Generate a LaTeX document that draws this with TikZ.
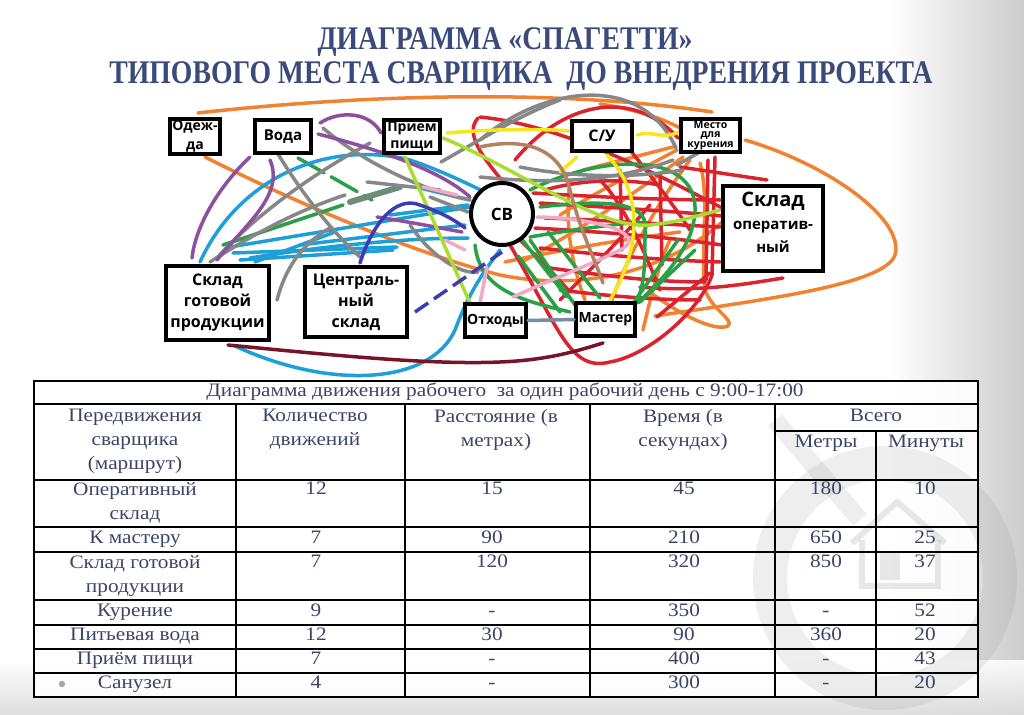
\documentclass[tikz,border=0pt]{standalone}
\usepackage{fontspec}
\setmainfont{Liberation Serif}
\newfontfamily\tfont{Liberation Serif}[FakeStretch=1.12]
\newfontfamily\ttlfont{Liberation Serif Bold}[FakeStretch=0.84]
\newfontfamily\bfont{Open Sans}
\definecolor{spred}{RGB}{220,35,45}
\definecolor{spgreen}{RGB}{40,160,70}
\definecolor{sporange}{RGB}{240,130,50}
\definecolor{spgray}{RGB}{135,135,135}
\definecolor{spcyan}{RGB}{30,160,215}
\definecolor{sppurple}{RGB}{140,80,160}
\definecolor{spyellow}{RGB}{245,230,30}
\definecolor{splime}{RGB}{170,220,50}
\definecolor{sppink}{RGB}{240,170,200}
\definecolor{spbrown}{RGB}{180,130,95}
\definecolor{spmaroon}{RGB}{120,20,40}
\definecolor{spnavy}{RGB}{60,60,180}
\definecolor{spslate}{RGB}{120,140,165}
\definecolor{spgg}{RGB}{110,140,120}
\definecolor{ttl}{RGB}{58,74,122}
\definecolor{tblue}{RGB}{60,70,100}
\begin{document}
\begin{tikzpicture}[x=1pt,y=-1pt,
  sp/.style={line width=3.5pt, line cap=round, line join=round},
  box/.style={draw=black, line width=4pt, fill=white, inner sep=0pt},
  lbl/.style={font=\bfont\bfseries\fontsize{16}{21}\selectfont, align=center, inner sep=0pt},
  tc/.style={font=\tfont\fontsize{19}{24}\selectfont, text=tblue, inner sep=0pt, align=center},
  tcs/.style={tc, text height=13pt, text depth=4pt},
  gridl/.style={line width=1.2pt, black},
  wm/.style={draw=gray, opacity=0.13}
]
\useasboundingbox (0,0) rectangle (1024,714);
\fill[white] (0,0) rectangle (1024,714);
\shade[left color=white, right color=black!20] (890,0) rectangle (1024,714);
\shade[top color=white, bottom color=black!14, opacity=0.9] (0,660) rectangle (1024,714);

% title
\node[font=\ttlfont\fontsize{33}{36}\selectfont, text=ttl] (t1) at (505,42) {ДИАГРАММА «СПАГЕТТИ»};
\node[font=\ttlfont\fontsize{33}{36}\selectfont, text=ttl] (t2) at (521,76) {ТИПОВОГО МЕСТА СВАРЩИКА\ \ ДО ВНЕДРЕНИЯ ПРОЕКТА};

% ---------- spaghetti ----------
% orange
\draw[sp, sporange] (198,113) .. controls (330,98) and (540,86) .. (712,112);
\draw[sp, sporange] (205,157) .. controls (300,205) and (420,255) .. (500,275) .. controls (600,295) and (680,260) .. (722,222);
\draw[sp, sporange] (745,140) .. controls (830,165) and (905,220) .. (895,255) .. controls (885,285) and (760,300) .. (655,316);
\draw[sp, sporange] (683,157) .. controls (640,190) and (580,230) .. (520,263);
\draw[sp, sporange] (700,163) .. controls (710,200) and (700,250) .. (705,290) .. controls (712,310) and (735,320) .. (728,326) .. controls (715,332) and (680,315) .. (650,292);
\draw[sp, sporange] (643,330) .. controls (650,300) and (660,260) .. (670,240);
\draw[sp, sporange] (583,170) -- (673,147);
\draw[sp, sporange] (505,262) .. controls (560,250) and (620,240) .. (680,232);
\draw[sp, sporange] (570,180) .. controls (565,220) and (570,260) .. (585,300);
\draw[sp, sporange] (690,160) .. controls (660,200) and (630,250) .. (612,300);
\draw[sp, sporange] (600,104) .. controls (640,110) and (665,120) .. (680,128);
\draw[sp, sporange] (677,150) .. controls (640,170) and (600,190) .. (560,215);
% red
\draw[sp, spred] (478,118) .. controls (462,135) and (490,165) .. (503,182);
\draw[sp, spred] (480,117) .. controls (560,125) and (650,170) .. (722,208);
\draw[sp, spred] (515,160) .. controls (560,105) and (630,85) .. (678,138);
\draw[sp, spred] (680,167) -- (767,180);
\draw[sp, spred] (715,157) -- (712,275);
\draw[sp, spred] (708,160) -- (706,280);
\draw[sp, spred] (620,170) -- (622,250);
\draw[sp, spred] (660,175) -- (662,265);
\draw[sp, spred] (533,193) .. controls (600,197) and (660,200) .. (720,200);
\draw[sp, spred] (540,203) .. controls (600,207) and (660,210) .. (722,216);
\draw[sp, spred] (545,218) .. controls (600,220) and (660,224) .. (720,227);
\draw[sp, spred] (535,228) .. controls (600,232) and (660,236) .. (722,245);
\draw[sp, spred] (540,248) .. controls (600,255) and (660,260) .. (720,262);
\draw[sp, spred] (550,268) .. controls (600,275) and (650,282) .. (705,282);
\draw[sp, spred] (560,290) .. controls (600,295) and (650,300) .. (700,300);
\draw[sp, spred] (640,287) .. controls (700,292) and (740,285) .. (783,278);
\draw[sp, spred] (510,245) .. controls (560,330) and (570,372) .. (610,362) .. controls (650,355) and (700,310) .. (712,275);
\draw[sp, spred] (520,240) .. controls (540,260) and (555,275) .. (570,292);
\draw[sp, spred] (657,317) -- (710,273);
\draw[sp, spred] (600,180) .. controls (620,200) and (640,240) .. (660,290);
\draw[sp, spred] (650,205) .. controls (620,240) and (590,270) .. (560,300);
\draw[sp, spred] (545,190) .. controls (580,180) and (620,178) .. (660,185);
\draw[sp, spred] (630,150) .. controls (650,175) and (670,200) .. (690,230);
% green
\draw[sp, spgreen] (530,190) .. controls (610,150) and (720,150) .. (690,235) .. controls (675,270) and (650,290) .. (638,303);
\draw[sp, spgreen] (540,207) .. controls (600,200) and (650,200) .. (645,230) .. controls (645,260) and (645,285) .. (637,300);
\draw[sp, spgreen] (530,240) -- (575,305);
\draw[sp, spgreen] (518,256) -- (560,312);
\draw[sp, spgreen] (548,232) -- (600,298);
\draw[sp, spgreen] (520,237) -- (567,297);
\draw[sp, spgreen] (634,302) -- (678,240);
\draw[sp, spgreen] (640,302) -- (695,250);
\draw[sp, spgreen] (223,245) -- (343,205);
\draw[sp, spgreen, dash pattern=on 30pt off 8pt] (298,158) -- (372,200);
\draw[sp, spgreen] (475,245) .. controls (480,290) and (520,300) .. (570,312);
\draw[sp, spgreen] (530,237) .. controls (570,230) and (610,225) .. (640,222);
\draw[sp, spgg, line width=6pt] (350,202) -- (400,187);
% cyan
\draw[sp, spcyan] (200,262) .. controls (240,175) and (330,140) .. (410,160) .. controls (440,170) and (470,185) .. (485,192);
\draw[sp, spcyan] (230,247) -- (470,207);
\draw[sp, spcyan] (233,253) -- (397,247);
\draw[sp, spcyan] (250,258) .. controls (330,245) and (410,238) .. (468,238);
\draw[sp, spcyan] (300,245) -- (465,225);
\draw[sp, spcyan] (240,260) -- (393,250);
\draw[sp, spcyan] (390,215) -- (468,205);
\draw[sp, spcyan] (420,188) -- (470,200);
\draw[sp, spcyan] (255,262) -- (335,232);
\draw[sp, spcyan] (235,346) .. controls (330,390) and (430,385) .. (455,330) .. controls (470,290) and (485,270) .. (500,250);
% gray
\draw[sp, spgray] (278,154) .. controls (300,190) and (330,230) .. (360,257);
\draw[sp, spgray] (323,128) .. controls (360,160) and (420,190) .. (470,200);
\draw[sp, spgray] (370,143) .. controls (320,170) and (260,210) .. (217,258);
\draw[sp, spgray] (210,262) .. controls (260,230) and (300,210) .. (345,195);
\draw[sp, spgray] (277,300) .. controls (285,270) and (300,245) .. (330,228);
\draw[sp, spgray] (480,177) .. controls (560,185) and (620,180) .. (673,160);
\draw[sp, spgray] (520,167) .. controls (560,175) and (620,180) .. (683,170);
\draw[sp, spgray] (441,162) .. controls (480,140) and (520,115) .. (560,100);
\draw[sp, spgray] (480,140) .. controls (540,88) and (640,70) .. (676,148);
\draw[sp, spgray] (410,225) .. controls (430,255) and (460,275) .. (478,272);
\draw[sp, spgray] (700,152) -- (677,165);
\draw[sp, spgray] (430,197) -- (468,212);
\draw[sp, spgray] (367,182) -- (440,190);
% purple
\draw[sp, sppurple] (320,123) .. controls (340,110) and (370,112) .. (381,133);
\draw[sp, sppurple] (250,157) .. controls (215,190) and (195,230) .. (192,258);
\draw[sp, sppurple] (270,160) .. controls (285,195) and (245,225) .. (217,260);
\draw[sp, sppurple] (318,134) .. controls (380,150) and (440,170) .. (470,197);
\draw[sp, sppurple] (377,217) .. controls (410,222) and (440,228) .. (462,232);
% yellow
\draw[sp, spyellow] (447,133) .. controls (480,130) and (530,128) .. (570,131);
\draw[sp, spyellow] (637,135) .. controls (650,130) and (665,140) .. (678,132);
\draw[sp, spyellow] (607,155) .. controls (645,195) and (640,250) .. (610,300);
\draw[sp, spyellow] (577,157) -- (560,172);
% lime
\draw[sp, splime] (405,157) -- (470,303);
\draw[sp, splime] (443,138) .. controls (520,170) and (600,230) .. (650,225) .. controls (680,222) and (700,215) .. (720,210);
% pink
\draw[sp, sppink] (423,187) -- (457,195);
\draw[sp, sppink] (537,217) .. controls (600,218) and (650,235) .. (620,250) .. controls (590,265) and (550,280) .. (513,297);
\draw[sp, sppink] (480,303) -- (487,267);
\draw[sp, sppink] (445,240) -- (465,250);
% brown
\draw[sp, spbrown] (480,147) .. controls (520,138) and (560,145) .. (570,190) .. controls (580,230) and (595,260) .. (603,283);
% maroon
\draw[sp, spmaroon] (228,345) .. controls (330,355) and (430,365) .. (500,362) .. controls (550,360) and (580,350) .. (603,343);
% navy
\draw[sp, spnavy, dash pattern=on 16pt off 7pt, line cap=butt] (415,312) -- (502,252);
\draw[sp, spnavy] (360,263) .. controls (372,225) and (395,195) .. (420,205) .. controls (440,212) and (455,220) .. (465,228);

% ---------- boxes ----------
\node[box, minimum width=50pt, minimum height=35pt] (ode) at (195,136.5) {};
\node[box, minimum width=56pt, minimum height=33pt] (vod) at (283,136.5) {};
\node[box, minimum width=56pt, minimum height=33pt] (pri) at (412,136.5) {};
\node[box, minimum width=60pt, minimum height=30pt] (su) at (602,136) {};
\node[box, minimum width=59pt, minimum height=33pt] (mes) at (710.5,135.5) {};
\node[box, minimum width=100pt, minimum height=85pt] (sko) at (773,228.5) {};
\node[box, minimum width=103pt, minimum height=74pt] (skg) at (217.5,303) {};
\node[box, minimum width=102pt, minimum height=70pt, line width=3.5pt] (cen) at (356,302) {};
\node[box, minimum width=61pt, minimum height=33pt] (otx) at (495.5,320.5) {};
\node[box, minimum width=59pt, minimum height=33pt] (mas) at (605.5,319.5) {};
\node[box, circle, minimum size=62pt] (sv) at (502,214) {};
\draw[sp, spslate] (otx.east) -- (mas.west);

\node[lbl, font=\bfont\bfseries\fontsize{14}{19}\selectfont] at (ode.center) {Одеж-\\да};
\node[lbl, font=\bfont\bfseries\fontsize{15}{19}\selectfont] at (vod.center) {Вода};
\node[lbl, font=\bfont\bfseries\fontsize{14}{17}\selectfont] at (pri.center) {Прием\\пищи};
\node[lbl, font=\bfont\bfseries\fontsize{16}{19}\selectfont] at (su.center) {С/У};
\node[lbl, font=\bfont\bfseries\fontsize{10.5}{9.5}\selectfont] at (mes.center) {Место\\для\\курения};
\node[lbl, font=\bfont\bfseries\fontsize{20}{24}\selectfont] at (773,201) {Склад};
\node[lbl, font=\bfont\bfseries\fontsize{15}{23}\selectfont] at (773,236.5) {оператив-\\ный};
\node[lbl] at (skg.center) {Склад\\готовой\\продукции};
\node[lbl] at (cen.center) {Централь-\\ный\\склад};
\node[lbl, font=\bfont\bfseries\fontsize{14}{19}\selectfont] at (otx.center) {Отходы};
\node[lbl, font=\bfont\bfseries\fontsize{14}{19}\selectfont] at (mas.center) {Мастер};
\node[lbl, font=\bfont\bfseries\fontsize{17}{19}\selectfont] at (sv.center) {СВ};

% ---------- table ----------
\fill[white, opacity=0.88] (34,381) rectangle (978,697);
\begin{scope}[wm]
  \draw[line width=34pt] (885,578) circle (115);
  \draw[line width=18pt] (775,420) -- (860,520);
  \draw[line width=6pt, draw=black!70] (852,543) -- (897,502) -- (945,543);
  \draw[line width=6pt, draw=black!70] (862,540) -- (862,586) -- (938,586) -- (938,540);
  \fill[black!70] (880,553) rectangle (900,580);
\end{scope}
\draw[gridl, line width=1.8pt] (34,381) rectangle (978,697);
\foreach \yy in {404,480,527,552,600,625,649,673} \draw[gridl] (34,\yy) -- (978,\yy);
\draw[gridl] (775,431) -- (978,431);
\foreach \xx in {236,405,590,775} \draw[gridl] (\xx,404) -- (\xx,697);
\draw[gridl] (876,431) -- (876,697);

\node[tcs] (tt) at (505,392) {Диаграмма движения рабочего\ \ за один рабочий день с 9:00-17:00};
\node[tc] (h1) at (135,441) {Передвижения\\сварщика\\(маршрут)};
\node[tc] (h2) at (315,429.5) {Количество\\движений};
\node[tc] (h3) at (496,429.5) {Расстояние (в\\метрах)};
\node[tc] (h4) at (683,429.5) {Время (в\\секундах)};
\node[tcs] (h5) at (876,417) {Всего};
\node[tcs] (h6) at (826,443) {Метры};
\node[tcs] (h7) at (926,443) {Минуты};

\node[tc] at (135,503) {Оперативный\\склад};
\node[tcs] at (316,490) {12};
\node[tcs] at (492,490) {15};
\node[tcs] at (684,490) {45};
\node[tcs] at (826,490) {180};
\node[tcs] at (925,490) {10};

\node[tcs] at (135,539) {К мастеру};
\node[tcs] at (316,539) {7};
\node[tcs] at (492,539) {90};
\node[tcs] at (684,539) {210};
\node[tcs] at (826,539) {650};
\node[tcs] at (925,539) {25};

\node[tc] at (135,576) {Склад готовой\\продукции};
\node[tcs] at (316,563) {7};
\node[tcs] at (492,563) {120};
\node[tcs] at (684,563) {320};
\node[tcs] at (826,563) {850};
\node[tcs] at (925,563) {37};

\node[tcs] at (135,612) {Курение};
\node[tcs] at (316,612) {9};
\node[tcs] at (492,612) {-};
\node[tcs] at (684,612) {350};
\node[tcs] at (826,612) {-};
\node[tcs] at (925,612) {52};

\node[tcs] at (135,636) {Питьевая вода};
\node[tcs] at (316,636) {12};
\node[tcs] at (492,636) {30};
\node[tcs] at (684,636) {90};
\node[tcs] at (826,636) {360};
\node[tcs] at (925,636) {20};

\node[tcs] at (135,660) {Приём пищи};
\node[tcs] at (316,660) {7};
\node[tcs] at (492,660) {-};
\node[tcs] at (684,660) {400};
\node[tcs] at (826,660) {-};
\node[tcs] at (925,660) {43};

\fill[gray!70] (62,684) circle (3.2);
\node[tcs] at (135,684) {Санузел};
\node[tcs] at (316,684) {4};
\node[tcs] at (492,684) {-};
\node[tcs] at (684,684) {300};
\node[tcs] at (826,684) {-};
\node[tcs] at (925,684) {20};
\end{tikzpicture}
\end{document}
